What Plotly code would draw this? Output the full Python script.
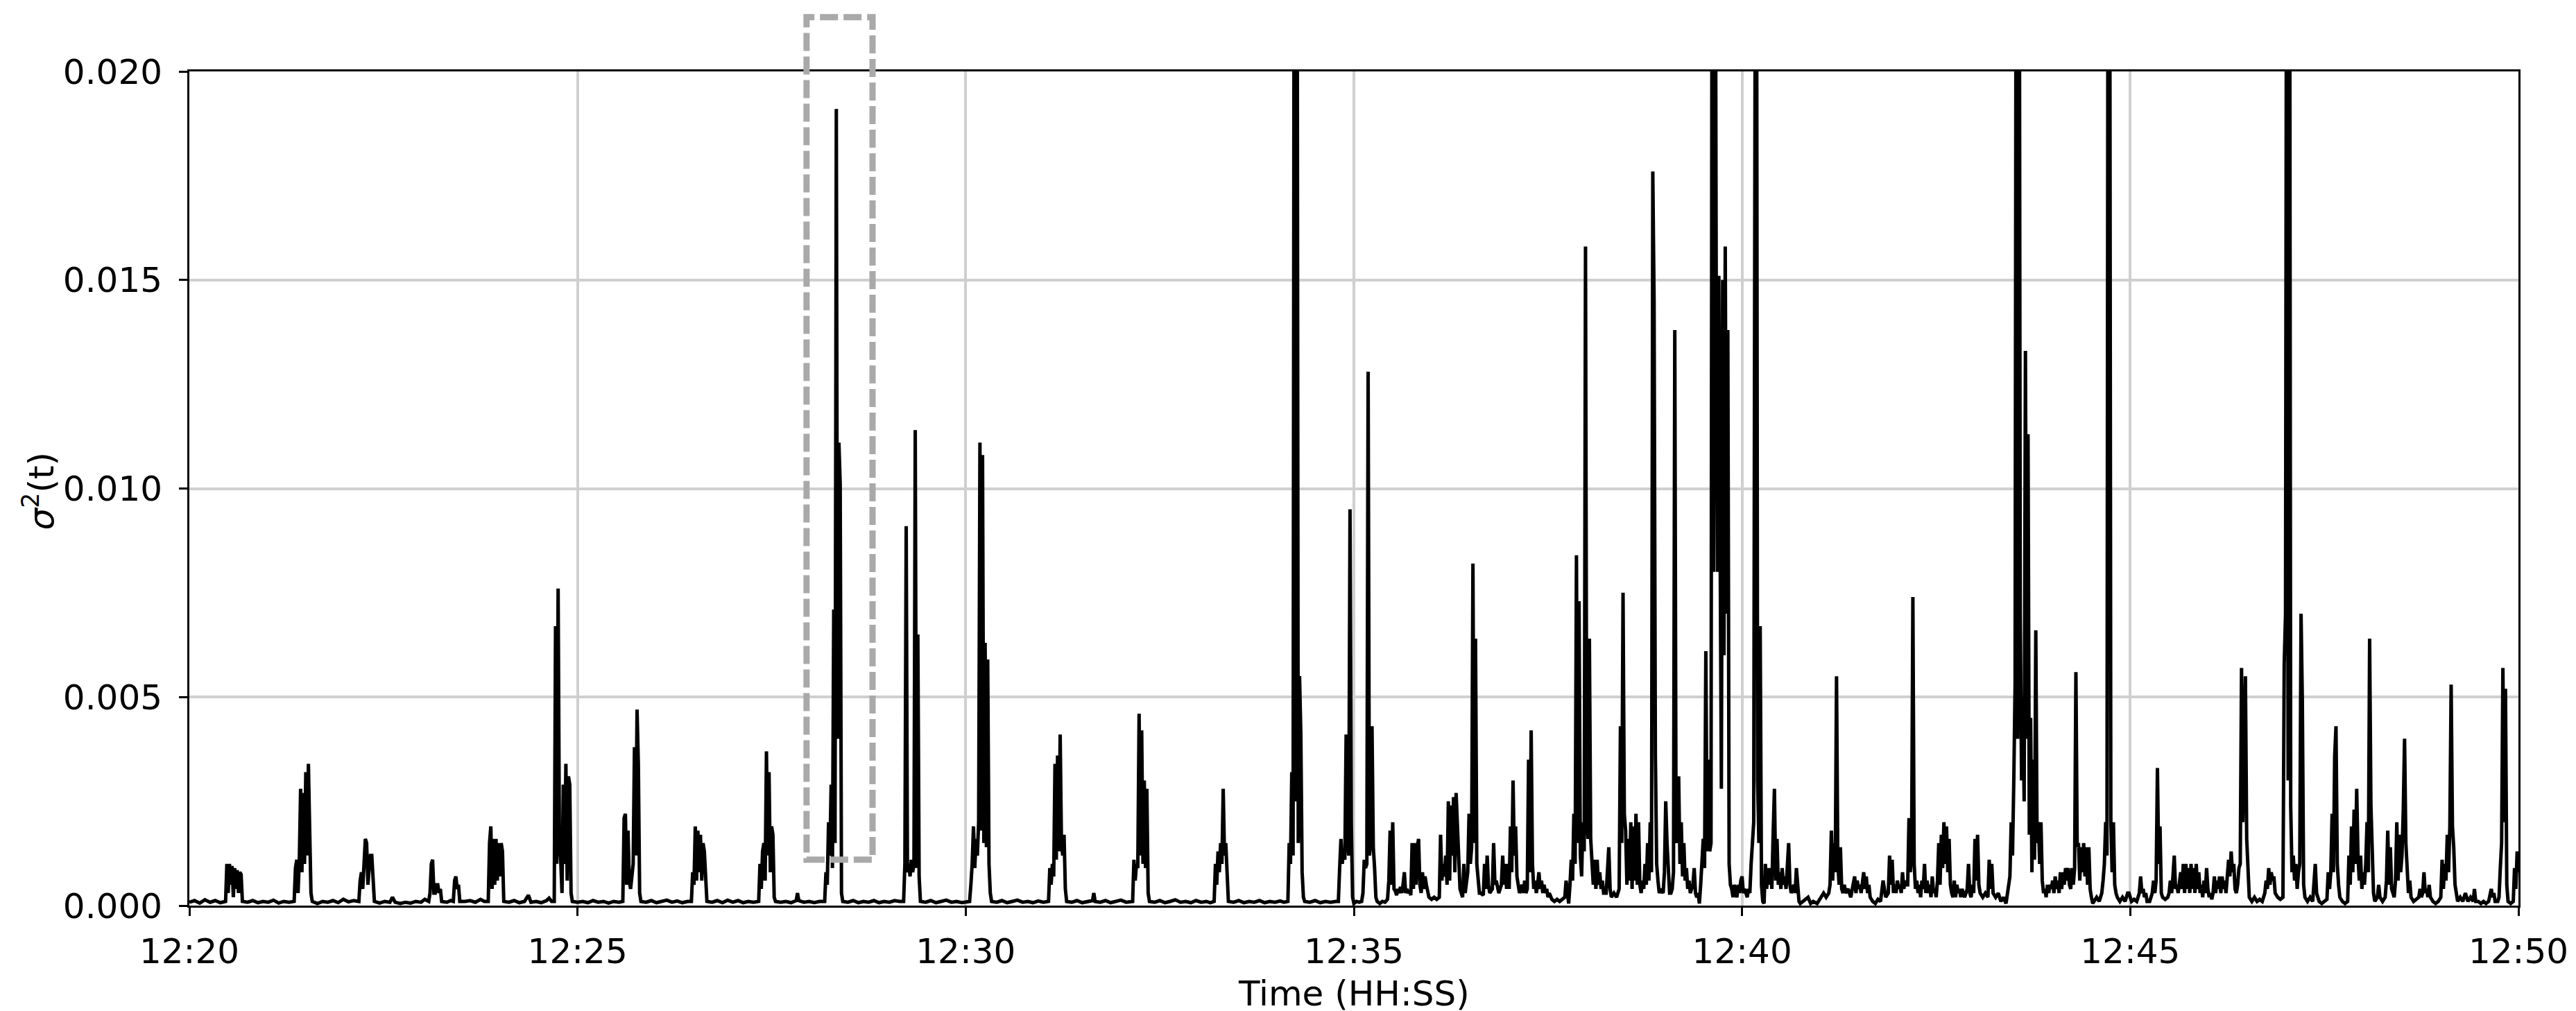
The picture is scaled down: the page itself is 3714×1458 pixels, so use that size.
import numpy as np
import pandas as pd
import plotly.graph_objects as go

# sigma^2(t) readings: (seconds after 12:20:00, value x 1e-3), one list per 5 minutes
seg_1220 = [
    (0, 0.08), (4, 0.12), (8, 0.06), (12, 0.14), (16, 0.08), (20, 0.12), (24, 0.07),
    (28, 0.1), (29, 1.0), (30, 0.3), (31, 1.0), (32, 0.5), (33, 0.95), (34, 0.2), (35, 0.9),
    (36, 0.4), (37, 0.85), (38, 0.3), (39, 0.8), (40, 0.75), (41, 0.1),
    (45, 0.08), (49, 0.12), (53, 0.07), (57, 0.1), (61, 0.08), (65, 0.13), (69, 0.06), (73, 0.1), (77, 0.08),
    (81, 0.1), (82, 0.9), (83, 1.1), (84, 0.3), (85, 1.1), (86, 2.8), (87, 0.8), (88, 2.7), (89, 1.0),
    (90, 3.2), (91, 1.2), (92, 3.4), (93, 1.8), (94, 0.3), (95, 0.1),
    (99, 0.05), (103, 0.1), (107, 0.08), (111, 0.12), (115, 0.07), (119, 0.15), (123, 0.09), (127, 0.12),
    (131, 0.1), (132, 0.6), (133, 0.8), (134, 0.4), (135, 1.0), (136, 1.6), (137, 1.5), (138, 0.5),
    (139, 0.9), (140, 1.2), (141, 1.2), (142, 0.4), (143, 0.1),
    (147, 0.06), (151, 0.1), (155, 0.08), (157, 0.2), (159, 0.08), (163, 0.05), (167, 0.08), (171, 0.06),
    (175, 0.1), (179, 0.08), (182, 0.15),
    (185, 0.1), (186, 0.3), (187, 1.0), (188, 1.1), (189, 0.3), (190, 0.3), (191, 0.5), (192, 0.5),
    (193, 0.3), (194, 0.4), (195, 0.1), (199, 0.08), (202, 0.12),
    (204, 0.1), (205, 0.6), (206, 0.7), (207, 0.4), (208, 0.5), (209, 0.1),
    (213, 0.1), (217, 0.12), (221, 0.08), (225, 0.15), (228, 0.1),
    (231, 0.1), (232, 1.5), (233, 1.9), (234, 0.4), (235, 1.6), (236, 0.5), (237, 1.6), (238, 0.6),
    (239, 1.5), (240, 0.7), (241, 1.5), (242, 1.3), (243, 0.1),
    (247, 0.08), (251, 0.12), (255, 0.07), (259, 0.1), (262, 0.25), (264, 0.08), (268, 0.1), (272, 0.07),
    (276, 0.12), (278, 0.18), (280, 0.1),
    (282, 0.1), (283, 6.7), (284, 1.0), (285, 7.6), (286, 1.5), (287, 1.1), (288, 0.3), (289, 2.9),
    (290, 1.0), (291, 3.4), (292, 0.6), (293, 3.1), (294, 2.9), (295, 0.3), (296, 0.1),
]

seg_1225 = [
    (300, 0.08), (304, 0.1), (308, 0.07), (312, 0.12), (316, 0.08), (320, 0.1), (324, 0.06), (328, 0.1), (332, 0.08),
    (335, 0.1), (336, 2.1), (337, 2.2), (338, 0.5), (339, 1.8), (340, 0.6), (341, 0.4), (342, 0.7),
    (343, 1.0), (344, 3.8), (345, 1.2), (346, 4.7), (347, 3.4), (348, 0.3), (349, 0.1),
    (353, 0.08), (357, 0.12), (361, 0.07), (365, 0.1), (369, 0.13), (373, 0.08), (377, 0.11), (381, 0.07), (385, 0.1),
    (388, 0.1), (389, 0.8), (390, 0.5), (391, 1.9), (392, 0.6), (393, 1.8), (394, 0.8), (395, 1.7),
    (396, 0.6), (397, 1.5), (398, 1.3), (399, 0.4), (400, 0.1),
    (404, 0.08), (408, 0.12), (412, 0.07), (416, 0.13), (420, 0.08), (424, 0.12), (428, 0.07), (432, 0.1), (436, 0.08),
    (440, 0.1), (441, 1.0), (442, 0.4), (443, 1.3), (444, 1.5), (445, 0.6), (446, 3.7), (447, 1.2),
    (448, 3.2), (449, 0.8), (450, 1.9), (451, 1.7), (452, 0.2), (453, 0.1),
    (457, 0.08), (461, 0.1), (465, 0.07), (469, 0.12), (470, 0.3), (471, 0.12), (475, 0.08), (479, 0.1),
    (483, 0.07), (487, 0.1),
    (491, 0.1), (492, 0.8), (493, 0.5), (494, 2.0), (495, 1.2), (496, 2.9), (497, 0.9), (498, 7.1),
    (499, 1.5), (500, 19.1), (501, 4.0), (502, 11.1), (503, 10.1), (504, 0.3), (505, 0.1),
    (509, 0.08), (513, 0.12), (517, 0.07), (521, 0.1), (525, 0.08), (529, 0.12), (533, 0.07), (537, 0.1),
    (541, 0.08), (545, 0.12), (549, 0.1),
    (552, 0.1), (553, 1.0), (554, 9.1), (555, 0.8), (556, 1.0), (557, 0.7), (558, 1.1), (559, 0.8),
    (560, 1.0), (561, 11.4), (562, 0.9), (563, 6.5), (564, 0.7), (565, 0.1),
    (569, 0.08), (573, 0.12), (577, 0.07), (581, 0.1), (585, 0.13), (589, 0.08), (593, 0.1), (597, 0.07),
]

seg_1230 = [
    (601, 0.1), (603, 0.1), (604, 0.5), (605, 1.0), (606, 1.9), (607, 0.9), (608, 1.6), (609, 1.2), (610, 2.0),
    (611, 11.1), (612, 1.8), (613, 10.8), (614, 1.5), (615, 6.3), (616, 1.4), (617, 5.9), (618, 1.0),
    (619, 0.3), (620, 0.1),
    (624, 0.08), (628, 0.12), (632, 0.07), (636, 0.1), (640, 0.13), (644, 0.08), (648, 0.1), (652, 0.07),
    (656, 0.11), (660, 0.08),
    (664, 0.1), (665, 0.9), (666, 0.5), (667, 1.0), (668, 0.7), (669, 3.4), (670, 1.1), (671, 3.6),
    (672, 1.3), (673, 4.1), (674, 1.5), (675, 1.2), (676, 1.7), (677, 0.4), (678, 0.1),
    (682, 0.08), (686, 0.12), (690, 0.07), (694, 0.1), (698, 0.12), (699, 0.3), (700, 0.1), (704, 0.08),
    (708, 0.12), (712, 0.07), (716, 0.1), (720, 0.13), (724, 0.08), (727, 0.1),
    (729, 0.1), (730, 1.1), (731, 0.6), (732, 1.0), (733, 0.9), (734, 4.6), (735, 1.2), (736, 4.2),
    (737, 1.0), (738, 3.0), (739, 0.9), (740, 2.8), (741, 0.3), (742, 0.1),
    (746, 0.08), (750, 0.12), (754, 0.07), (758, 0.1), (762, 0.14), (766, 0.08), (770, 0.1), (774, 0.07),
    (778, 0.12), (782, 0.08), (786, 0.1), (789, 0.07),
    (792, 0.1), (793, 1.0), (794, 0.5), (795, 1.3), (796, 0.8), (797, 1.5), (798, 1.0), (799, 2.8),
    (800, 1.2), (801, 1.5), (802, 0.6), (803, 0.1),
    (807, 0.08), (811, 0.12), (815, 0.07), (819, 0.1), (823, 0.08), (827, 0.12), (831, 0.07), (835, 0.1),
    (839, 0.08), (843, 0.11), (846, 0.08),
    (849, 0.1), (850, 1.5), (851, 1.0), (852, 3.2), (853, 1.2), (854, 30.0), (855, 2.5), (856, 28.0),
    (857, 1.5), (858, 5.5), (859, 4.1), (860, 0.8), (861, 0.2), (862, 0.1),
    (866, 0.08), (870, 0.12), (874, 0.07), (878, 0.1), (882, 0.08), (886, 0.1),
    (888, 0.1), (889, 0.9), (890, 1.6), (891, 1.0), (892, 1.3), (893, 1.1), (894, 4.1), (895, 1.6),
    (896, 1.2), (897, 9.5), (898, 2.0), (899, 0.2),
]

seg_1235 = [
    (900, 0.05), (902, 0.1), (904, 0.08), (906, 0.1), (907, 0.3), (908, 1.1), (909, 0.9), (910, 1.0),
    (911, 12.8), (912, 1.2), (913, 1.5), (914, 4.3), (915, 1.4), (916, 0.9), (917, 0.2), (918, 0.1),
    (920, 0.05), (922, 0.1), (924, 0.08), (926, 0.15),
    (927, 0.6), (928, 1.8), (929, 0.5), (930, 2.0), (931, 0.4), (932, 0.35), (933, 0.25), (934, 0.4),
    (935, 0.3), (936, 0.45), (937, 0.3), (938, 0.5), (939, 0.8), (940, 0.3), (941, 0.4), (942, 0.3),
    (943, 0.35), (944, 0.25),
    (945, 1.5), (946, 0.4), (947, 1.5), (948, 0.5), (949, 1.4), (950, 1.6), (951, 0.5), (952, 0.3),
    (953, 0.8), (954, 0.4), (955, 0.7), (956, 0.5), (957, 0.3), (958, 0.2), (960, 0.15), (962, 0.2),
    (964, 0.15), (966, 0.2),
    (967, 1.7), (968, 0.6), (969, 1.0), (970, 0.7), (971, 1.2), (972, 0.5), (973, 2.5), (974, 0.6),
    (975, 2.4), (976, 1.2), (977, 2.6), (978, 0.8), (979, 2.7), (980, 2.0), (981, 1.3), (982, 0.4),
    (984, 0.2), (985, 1.0), (986, 0.3), (987, 0.6),
    (988, 0.8), (989, 2.2), (990, 1.0), (991, 1.4), (992, 8.2), (993, 1.5), (994, 6.4), (995, 1.0),
    (996, 0.5), (997, 0.3), (998, 0.3), (1000, 0.25),
    (1001, 1.0), (1002, 0.4), (1003, 1.2), (1004, 0.5), (1005, 0.3), (1007, 0.4), (1008, 1.5), (1009, 0.5),
    (1010, 0.6), (1012, 0.3), (1014, 0.5), (1015, 1.2), (1016, 0.5), (1017, 1.0), (1018, 0.4), (1019, 1.0),
    (1020, 0.4), (1021, 1.9), (1022, 0.8), (1023, 3.0), (1024, 1.2), (1025, 1.9), (1026, 0.7), (1027, 0.4),
    (1028, 0.3), (1030, 0.5), (1031, 0.3), (1032, 0.6), (1033, 0.3), (1034, 0.4),
    (1035, 3.5), (1036, 0.8), (1037, 4.2), (1038, 1.0), (1039, 0.4), (1040, 0.6), (1041, 0.3), (1042, 0.5),
    (1043, 0.8), (1044, 0.4), (1045, 0.6), (1046, 0.3), (1047, 0.5), (1048, 0.3), (1049, 0.4), (1050, 0.2),
    (1051, 0.3), (1053, 0.15), (1055, 0.1), (1057, 0.15), (1059, 0.1), (1061, 0.15), (1063, 0.2),
    (1064, 0.6), (1065, 0.2), (1066, 0.05),
    (1067, 0.5), (1068, 1.1), (1069, 0.6), (1070, 2.2), (1071, 1.0), (1072, 8.4), (1073, 1.5), (1074, 7.3),
    (1075, 1.2), (1076, 0.7), (1077, 2.0), (1078, 1.3), (1079, 15.8), (1080, 2.0), (1081, 1.6), (1082, 6.4),
    (1083, 1.6), (1084, 1.0), (1085, 0.5), (1086, 1.1), (1087, 0.4), (1088, 1.1), (1089, 0.5), (1090, 0.8),
    (1091, 0.4), (1092, 0.6), (1093, 0.3), (1095, 0.3), (1097, 1.4), (1098, 0.4), (1099, 0.2), (1101, 0.3),
    (1103, 0.2), (1105, 0.4),
    (1106, 4.3), (1107, 1.5), (1108, 7.5), (1109, 2.2), (1110, 1.8), (1111, 0.5), (1112, 1.6), (1113, 0.6),
    (1114, 2.0), (1115, 0.4), (1116, 1.9), (1117, 0.6), (1118, 2.2), (1119, 0.5), (1120, 2.0),
    (1121, 0.5), (1122, 0.3), (1123, 0.6), (1124, 0.4), (1125, 1.0), (1126, 0.5), (1127, 1.5), (1128, 0.6),
    (1129, 2.0), (1130, 0.8),
    (1131, 17.6), (1132, 14.5), (1133, 3.6), (1134, 1.0), (1135, 0.6), (1136, 0.3), (1137, 0.4), (1139, 0.3),
    (1140, 0.8), (1141, 2.5), (1142, 1.5), (1143, 0.8), (1144, 0.3), (1145, 0.3),
    (1146, 0.4), (1147, 0.8), (1148, 13.8), (1149, 1.5), (1150, 2.0), (1151, 3.1), (1152, 1.0), (1153, 2.0),
    (1154, 0.7), (1155, 1.5), (1156, 0.6), (1157, 0.9),
    (1158, 0.4), (1159, 0.6), (1160, 0.3), (1162, 0.5), (1163, 0.9), (1164, 0.3), (1165, 0.2), (1166, 0.3),
    (1167, 0.05), (1168, 0.5), (1169, 1.2), (1170, 1.6),
    (1171, 0.9), (1172, 6.1), (1173, 1.3), (1174, 3.5), (1175, 1.3), (1176, 1.5), (1177, 30.0), (1178, 8.0),
    (1179, 30.0), (1180, 15.1), (1181, 8.0), (1182, 15.1), (1183, 6.5), (1184, 2.8), (1185, 15.0),
    (1186, 6.0), (1187, 15.8), (1188, 7.0), (1189, 13.8), (1190, 1.0), (1191, 0.5),
    (1192, 0.4), (1193, 0.2), (1194, 0.5), (1195, 0.3), (1196, 0.2), (1197, 0.5), (1198, 0.3), (1199, 0.6),
]

seg_1240 = [
    (1200, 0.7), (1201, 0.3), (1202, 0.4), (1203, 0.3), (1204, 0.2), (1205, 0.4), (1206, 0.3), (1207, 1.0),
    (1208, 1.7), (1209, 2.0), (1210, 19.7), (1211, 30.0), (1212, 3.0), (1213, 1.5), (1214, 6.7), (1215, 0.5),
    (1216, 0.1), (1217, 0.05),
    (1218, 1.0), (1219, 0.4), (1220, 0.9), (1221, 0.5), (1222, 0.9), (1223, 0.4), (1224, 1.7), (1225, 2.8),
    (1226, 0.6), (1227, 1.6), (1228, 0.5), (1229, 0.8), (1230, 0.4), (1231, 0.9), (1232, 0.5), (1233, 0.7),
    (1234, 0.4), (1235, 1.0), (1236, 1.5), (1237, 0.5), (1238, 0.3),
    (1240, 0.5), (1241, 0.3), (1242, 0.9), (1243, 0.5), (1244, 0.1), (1245, 0.05), (1247, 0.1), (1251, 0.2),
    (1253, 0.05), (1255, 0.1), (1258, 0.05), (1261, 0.2), (1263, 0.3), (1265, 0.2), (1267, 0.3),
    (1268, 0.5), (1269, 1.8), (1270, 0.6), (1271, 1.5), (1272, 0.8), (1273, 5.5), (1274, 1.0), (1275, 0.5),
    (1276, 1.4), (1277, 0.4), (1278, 0.3), (1279, 0.5), (1280, 0.3), (1282, 0.4), (1284, 0.2), (1285, 0.4),
    (1287, 0.7), (1288, 0.3), (1289, 0.6), (1290, 0.4), (1291, 0.5), (1292, 0.3), (1293, 0.6), (1294, 0.8),
    (1295, 0.4), (1296, 0.7), (1297, 0.3), (1298, 0.5), (1299, 0.2),
    (1301, 0.1), (1303, 0.05), (1305, 0.15), (1307, 0.1), (1309, 0.6), (1311, 0.2), (1313, 0.3), (1314, 1.2),
    (1315, 0.5), (1316, 1.1), (1317, 0.3), (1318, 0.5), (1319, 0.3), (1320, 0.6), (1321, 0.4), (1322, 0.5),
    (1323, 0.3), (1324, 0.8), (1325, 0.4), (1326, 0.6), (1327, 0.5),
    (1328, 0.5), (1329, 2.1), (1330, 0.8), (1331, 1.2), (1332, 7.4), (1333, 1.0), (1334, 0.4),
    (1335, 0.6), (1336, 0.3), (1337, 0.5), (1338, 0.2), (1339, 0.6), (1340, 0.4), (1341, 1.0), (1342, 0.3),
    (1343, 0.6), (1344, 0.3), (1345, 0.5), (1346, 0.2), (1347, 0.7), (1348, 0.3), (1349, 0.4),
    (1350, 0.2), (1351, 0.6), (1352, 1.5), (1353, 0.5), (1354, 1.7), (1355, 0.9), (1356, 2.0), (1357, 1.0),
    (1358, 1.9), (1359, 0.8), (1360, 1.6), (1361, 0.5),
    (1362, 0.3), (1363, 0.2), (1364, 0.6), (1365, 0.2), (1366, 0.5), (1367, 0.3), (1368, 0.4), (1369, 0.2),
    (1370, 0.4), (1371, 0.3), (1372, 0.2), (1374, 0.4), (1375, 1.0), (1376, 0.3),
    (1377, 0.2), (1378, 0.5), (1379, 0.3), (1380, 1.6), (1381, 0.6), (1382, 1.7), (1383, 0.5), (1384, 0.3),
    (1386, 0.2), (1388, 0.3), (1390, 0.2), (1391, 1.1), (1392, 0.4), (1393, 1.0), (1394, 0.3),
    (1396, 0.2), (1398, 0.3), (1400, 0.1), (1402, 0.2), (1404, 0.05), (1405, 0.3), (1406, 0.6), (1407, 0.7),
    (1408, 2.0), (1409, 1.2), (1410, 3.0), (1411, 5.3), (1412, 30.0), (1413, 4.0), (1414, 30.0), (1415, 7.0),
    (1416, 3.0), (1417, 5.0), (1418, 2.5), (1419, 13.3), (1420, 4.0), (1421, 11.3), (1422, 1.7), (1423, 4.5),
    (1424, 0.8), (1425, 3.5), (1426, 1.1), (1427, 6.6), (1428, 1.5), (1429, 2.0), (1430, 1.0), (1431, 2.0),
    (1432, 0.6),
    (1433, 0.3), (1434, 0.4), (1435, 0.2), (1436, 0.5), (1437, 0.3), (1438, 0.5), (1439, 0.4), (1440, 0.6),
    (1441, 0.3), (1442, 0.7), (1443, 0.4), (1444, 0.6), (1445, 0.3), (1446, 0.8), (1447, 0.4), (1448, 0.8),
    (1449, 0.5), (1450, 0.9), (1451, 0.6), (1452, 0.9), (1453, 0.5), (1454, 0.4), (1455, 0.9), (1456, 0.5),
    (1457, 0.9), (1458, 5.6), (1459, 1.4), (1460, 1.5), (1461, 0.6), (1462, 1.4), (1463, 0.8), (1464, 1.5),
    (1465, 0.7), (1466, 1.4), (1467, 0.5), (1468, 1.4), (1469, 0.4), (1470, 0.2),
    (1471, 0.05), (1472, 0.1), (1474, 0.2), (1476, 0.1), (1478, 0.3),
    (1479, 0.6), (1480, 1.0), (1481, 2.0), (1482, 1.2), (1483, 30.0), (1484, 28.0), (1485, 2.0), (1486, 0.8),
    (1487, 2.0), (1488, 0.5), (1489, 0.3), (1490, 0.2), (1492, 0.1), (1494, 0.2), (1496, 0.1), (1498, 0.3),
]

seg_1245 = [
    (1499, 0.3), (1501, 0.1), (1503, 0.15), (1505, 0.1), (1507, 0.3), (1508, 0.7), (1509, 0.3), (1510, 0.4),
    (1511, 0.2), (1512, 0.3), (1513, 0.1), (1515, 0.1), (1517, 0.3), (1518, 0.6), (1519, 0.3),
    (1520, 0.6), (1521, 3.3), (1522, 1.0), (1523, 1.9), (1524, 0.3), (1525, 0.2), (1527, 0.15), (1529, 0.2),
    (1530, 0.3), (1531, 0.6), (1532, 0.3), (1533, 0.7), (1534, 1.2), (1535, 0.4),
    (1536, 0.5), (1537, 0.3), (1538, 0.6), (1539, 0.8), (1540, 0.4), (1541, 1.0), (1542, 0.3), (1543, 1.0),
    (1544, 0.4), (1545, 0.9), (1546, 0.3), (1547, 1.0), (1548, 0.4), (1549, 0.9), (1550, 0.3), (1551, 1.0),
    (1552, 0.4), (1553, 0.8), (1554, 0.3),
    (1555, 0.5), (1556, 0.2), (1557, 0.6), (1558, 0.3), (1559, 0.9), (1560, 0.4), (1561, 0.2), (1562, 0.3),
    (1563, 0.15), (1564, 0.3), (1565, 0.7), (1566, 0.3), (1567, 0.6), (1568, 0.4), (1569, 0.7), (1570, 0.3),
    (1571, 0.7), (1572, 0.4), (1573, 0.6), (1574, 0.3),
    (1575, 0.6), (1576, 1.1), (1577, 0.7), (1578, 1.3), (1579, 0.8), (1580, 1.0), (1581, 0.4), (1582, 0.3),
    (1583, 0.5), (1584, 0.9), (1585, 1.0), (1586, 5.7), (1587, 2.0), (1588, 4.0), (1589, 5.5), (1590, 1.6),
    (1591, 0.6),
    (1592, 0.2), (1594, 0.1), (1596, 0.2), (1598, 0.1), (1600, 0.15), (1602, 0.1), (1604, 0.3), (1605, 0.6),
    (1606, 0.4), (1607, 0.9), (1608, 0.5), (1609, 0.8), (1610, 0.6), (1611, 0.7), (1612, 0.3), (1614, 0.2),
    (1616, 0.15), (1618, 0.2),
    (1619, 5.8), (1620, 7.0), (1621, 30.0), (1622, 3.0), (1623, 30.0), (1624, 2.4), (1625, 0.8), (1626, 1.2),
    (1627, 0.6), (1628, 1.0), (1629, 0.4), (1630, 0.8), (1631, 1.0), (1632, 7.0), (1633, 4.9), (1634, 0.5),
    (1635, 0.2), (1637, 0.1), (1639, 0.2), (1641, 0.1), (1643, 1.0), (1644, 0.3), (1646, 0.1), (1648, 0.05),
    (1650, 0.1), (1652, 0.15),
    (1653, 0.8), (1654, 0.4), (1655, 0.8), (1656, 2.2), (1657, 0.8), (1658, 3.6), (1659, 4.3), (1660, 1.0),
    (1661, 0.5), (1662, 0.2), (1664, 0.1), (1666, 0.05), (1668, 0.1),
    (1669, 1.2), (1670, 0.5), (1671, 1.9), (1672, 0.8), (1673, 2.3), (1674, 1.0), (1675, 2.8), (1676, 1.2),
    (1677, 0.6), (1678, 1.2), (1679, 0.4), (1680, 0.8), (1681, 0.5),
    (1682, 1.0), (1683, 2.0), (1684, 0.8), (1685, 6.4), (1686, 2.4), (1687, 1.0), (1688, 0.3), (1689, 0.1),
    (1691, 0.2), (1692, 0.5), (1693, 0.2), (1695, 0.1), (1697, 0.2),
    (1698, 0.6), (1699, 1.8), (1700, 0.5), (1701, 1.4), (1702, 0.4), (1704, 0.2), (1705, 0.6), (1706, 2.0),
    (1707, 0.6), (1708, 1.7), (1709, 0.8), (1710, 1.2), (1711, 2.3), (1712, 4.0), (1713, 1.5), (1714, 0.6),
    (1715, 0.3), (1716, 0.6), (1717, 0.2), (1719, 0.1), (1721, 0.15), (1723, 0.2), (1724, 0.4), (1725, 0.2),
    (1726, 0.3), (1727, 0.8), (1728, 0.3), (1729, 0.4), (1730, 0.2), (1731, 0.5), (1732, 0.2),
    (1734, 0.1), (1736, 0.05), (1738, 0.1), (1740, 0.2), (1741, 1.1), (1742, 0.4), (1743, 1.0), (1744, 0.6),
    (1745, 1.7), (1746, 0.8), (1747, 1.9), (1748, 5.3), (1749, 1.9), (1750, 1.4), (1751, 0.5),
    (1753, 0.1), (1755, 0.2), (1757, 0.1), (1759, 0.3), (1761, 0.1), (1763, 0.2), (1765, 0.1), (1766, 0.4),
    (1767, 0.1), (1769, 0.1), (1771, 0.05), (1773, 0.1), (1775, 0.05), (1777, 0.1),
    (1779, 0.4), (1780, 0.2), (1781, 0.3), (1782, 0.1), (1784, 0.1), (1785, 0.2), (1786, 0.9), (1787, 1.5),
    (1788, 5.7), (1789, 2.0), (1790, 5.2), (1791, 0.5),
    (1792, 0.1), (1794, 0.05), (1796, 0.1), (1797, 0.9), (1798, 0.4), (1799, 1.3), (1800, 0.8),
]

y_ticks = [0.000, 0.005, 0.010, 0.015, 0.020]

# highlighted event (dashed box)
box_start, box_end = "12:27:57", "12:28:48"
box_low, box_high = 0.0011, 0.0213

DAY = "2000-01-01 "
t0 = pd.Timestamp(DAY + "12:20:00")
t1 = pd.Timestamp(DAY + "12:50:00")

points = seg_1220 + seg_1225 + seg_1230 + seg_1235 + seg_1240 + seg_1245
secs = np.array([p[0] for p in points], dtype=float)
sigma2 = np.array([p[1] for p in points]) * 1e-3
times = t0 + pd.to_timedelta(secs, unit="s")

FONT = "DejaVu Sans, Verdana, sans-serif"
ymax = y_ticks[-1]

fig = go.Figure()
fig.add_trace(go.Scatter(
    x=times,
    y=sigma2,
    mode="lines",
    line=dict(color="black", width=5),
    showlegend=False,
))

fig.add_shape(
    type="rect",
    xref="x", yref="paper",
    x0=pd.Timestamp(DAY + box_start), x1=pd.Timestamp(DAY + box_end),
    y0=box_low / ymax, y1=box_high / ymax,
    line=dict(color="#a9a9a9", width=9, dash="26px,8px"),
    fillcolor="rgba(0,0,0,0)",
)

# axis titles placed as paper annotations for exact positioning
fig.add_annotation(
    text="Time (HH:SS)", xref="paper", yref="paper", x=0.5, y=-0.1055,
    xanchor="center", yanchor="middle", showarrow=False,
    font=dict(family=FONT, size=50, color="black"),
)
fig.add_annotation(
    text="<i>σ</i><sup>2</sup>(t)", xref="paper", yref="paper", x=-0.0645, y=0.497,
    xanchor="center", yanchor="middle", textangle=-90, showarrow=False,
    font=dict(family=FONT, size=50, color="black"),
)

axis_style = dict(
    showgrid=True,
    gridcolor="#cfcfcf",
    gridwidth=3.5,
    showline=True,
    linecolor="black",
    linewidth=3,
    mirror=True,
    ticks="outside",
    ticklen=12,
    tickwidth=2.5,
    tickcolor="black",
    tickfont=dict(family=FONT, size=50, color="black"),
    zeroline=False,
    automargin=False,
)

fig.update_layout(
    width=3714,
    height=1458,
    margin=dict(l=265, r=91, t=95, b=160),
    paper_bgcolor="white",
    plot_bgcolor="white",
    font=dict(family=FONT, size=50, color="black"),
)
fig.update_xaxes(
    type="date",
    range=[t0, t1],
    tick0=t0,
    dtick=5 * 60 * 1000,
    tickformat="%H:%M",
    ticklabelstandoff=8,
    **axis_style,
)
fig.update_yaxes(
    range=[0, ymax],
    tickvals=y_ticks,
    tickformat=".3f",
    ticklabelstandoff=14,
    **axis_style,
)

fig.write_html("out.html")
